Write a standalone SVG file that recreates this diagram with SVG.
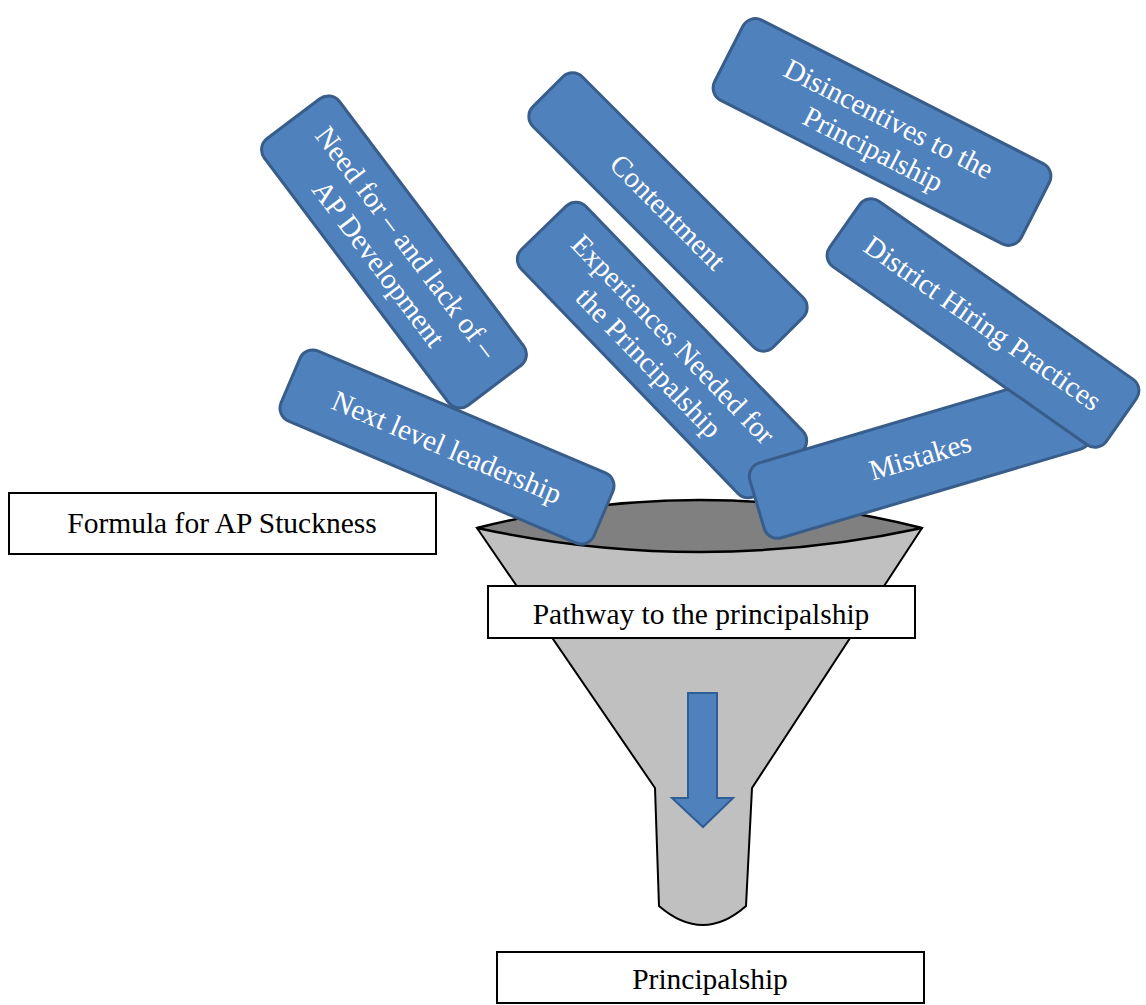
<svg xmlns="http://www.w3.org/2000/svg" width="1146" height="1005" viewBox="0 0 1146 1005">
<style>
.blue{fill:#4f81bd;stroke:#385d8a;stroke-width:3}
.bt{font-family:"Liberation Serif","Times New Roman",serif;font-size:29px;fill:#ffffff;text-anchor:middle}
.lbl{fill:#ffffff;stroke:#000000;stroke-width:2}
.lt{font-family:"Liberation Serif","Times New Roman",serif;font-size:29.5px;fill:#000000;text-anchor:middle}
</style>
<rect width="1146" height="1005" fill="#ffffff"/>
<g id="funnel">
<path d="M477,528 L655,788 L659,906 Q703,944 746,906 L752,788 L922,528 Z" fill="#c0c0c0" stroke="#000" stroke-width="2"/>
<path d="M477,528 Q700,472 922,528 Q700,576 477,528 Z" fill="#808080" stroke="#000" stroke-width="2.5"/>
</g>
<g id="connectors">
<path d="M688,693 L717,693 L717,798 L733,798 L703,827 L672,798 L688,798 Z" fill="#4f81bd" stroke="#2f5d96" stroke-width="2"/>
</g>
<g id="node-need" transform="translate(394,252) rotate(53)">
<rect class="blue" x="-167" y="-47" width="334" height="94" rx="14"/>
<text class="bt" x="0" y="-6">Need for – and lack of –</text>
<text class="bt" x="0" y="29">AP Development</text>
</g>
<g id="node-next" transform="translate(447,447) rotate(23)">
<rect class="blue" x="-170" y="-38" width="340" height="76" rx="14"/>
<text class="bt" x="0" y="10">Next level leadership</text>
</g>
<g id="node-contentment" transform="translate(668,212) rotate(45)">
<rect class="blue" x="-170" y="-35" width="340" height="70" rx="14"/>
<text class="bt" x="0" y="10">Contentment</text>
</g>
<g id="node-experiences" transform="translate(662,350) rotate(46)">
<rect class="blue" x="-170" y="-45" width="340" height="90" rx="14"/>
<text class="bt" x="0" y="-6">Experiences Needed for</text>
<text class="bt" x="0" y="28">the Principalship</text>
</g>
<g id="node-disincentives" transform="translate(882,132) rotate(27)">
<rect class="blue" x="-172" y="-45" width="344" height="90" rx="14"/>
<text class="bt" x="0" y="-5">Disincentives to the</text>
<text class="bt" x="0" y="29">Principalship</text>
</g>
<g id="node-mistakes" transform="translate(920,456) rotate(-16.5)">
<rect class="blue" x="-170" y="-39" width="340" height="78" rx="14"/>
<text class="bt" x="0" y="10">Mistakes</text>
</g>
<g id="node-district" transform="translate(983,323) rotate(35)">
<rect class="blue" x="-169" y="-40" width="338" height="80" rx="14"/>
<text class="bt" x="0" y="10">District Hiring Practices</text>
</g>
<g id="node-formula">
<rect class="lbl" x="9" y="493" width="427" height="61"/>
<text class="lt" x="222" y="533">Formula for AP Stuckness</text>
</g>
<g id="node-pathway">
<rect class="lbl" x="488" y="586" width="427" height="52"/>
<text class="lt" x="701" y="624">Pathway to the principalship</text>
</g>
<g id="node-principalship">
<rect class="lbl" x="497" y="952" width="427" height="51"/>
<text class="lt" x="710" y="989">Principalship</text>
</g>
</svg>
